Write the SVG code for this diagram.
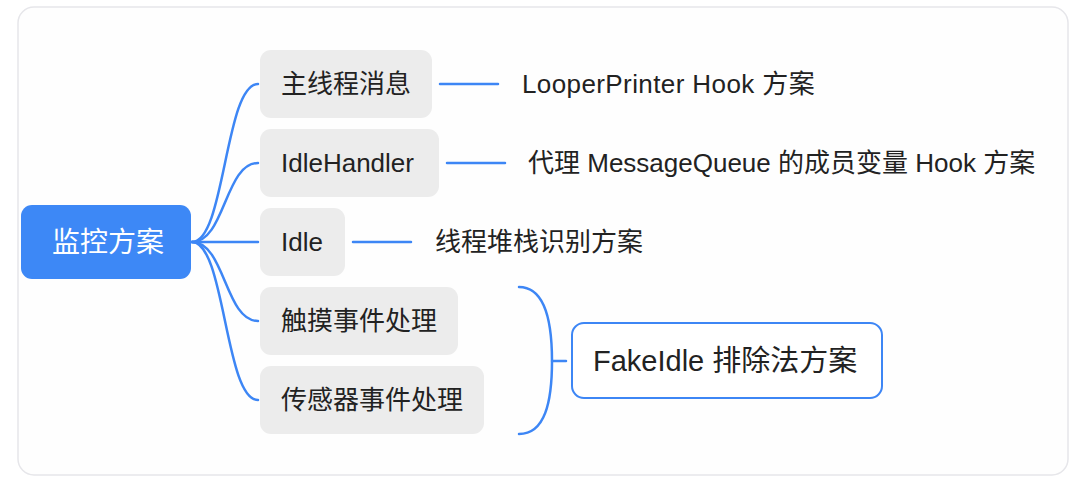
<svg xmlns="http://www.w3.org/2000/svg" width="1080" height="489" viewBox="0 0 1080 489">
<style>
.t{font-family:"Liberation Sans","Noto Sans CJK SC",sans-serif;font-size:26px;fill:#222;dominant-baseline:central}
.n{fill:#ececec}
.c{fill:none;stroke:#3d86f5;stroke-width:2.5;stroke-linecap:round}
</style>
<rect x="0" y="0" width="1080" height="489" fill="#ffffff"/>
<rect x="18" y="7" width="1050" height="468" rx="16" fill="#fefefe" stroke="#e6e6ea" stroke-width="1.5"/>
<g id="connectors">
<path class="c" d="M192,242 C225,242 225,84 258,84"/>
<path class="c" d="M192,242 C225,242 225,163 258,163"/>
<path class="c" d="M192,242 H258"/>
<path class="c" d="M192,242 C225,242 225,321 258,321"/>
<path class="c" d="M192,242 C225,242 225,400 258,400"/>
<path class="c" d="M440,84 H498"/>
<path class="c" d="M447,163 H505"/>
<path class="c" d="M353,242 H411"/>
<path class="c" d="M519,287 C545,287 552,320 552,361 C552,402 545,434 519,434"/>
<path class="c" d="M552,361 H566"/>
</g>
<g id="root">
<rect x="21" y="205" width="170" height="74" rx="11" fill="#3d88f6"/>
<text class="t" x="52" y="242" style="fill:#fff;font-size:28px">监控方案</text>
</g>
<g id="n1">
<rect class="n" x="260" y="50" width="172" height="68" rx="11"/>
<text class="t" x="281" y="84">主线程消息</text>
</g>
<g id="n2">
<rect class="n" x="260" y="129" width="179" height="68" rx="11"/>
<text class="t" x="281" y="163">IdleHandler</text>
</g>
<g id="n3">
<rect class="n" x="260" y="208" width="85" height="68" rx="11"/>
<text class="t" x="281" y="242">Idle</text>
</g>
<g id="n4">
<rect class="n" x="260" y="287" width="198" height="68" rx="11"/>
<text class="t" x="281" y="321">触摸事件处理</text>
</g>
<g id="n5">
<rect class="n" x="260" y="366" width="224" height="68" rx="11"/>
<text class="t" x="281" y="400">传感器事件处理</text>
</g>
<g id="l1"><text class="t" x="522" y="84" style="letter-spacing:0.4px">LooperPrinter Hook 方案</text></g>
<g id="l2"><text class="t" x="528" y="163">代理 MessageQueue 的成员变量 Hook 方案</text></g>
<g id="l3"><text class="t" x="435" y="242">线程堆栈识别方案</text></g>
<g id="fake">
<rect x="572" y="323" width="310" height="75" rx="12" fill="#fff" stroke="#3d86f5" stroke-width="2"/>
<text class="t" x="593" y="361" style="font-size:29px">FakeIdle 排除法方案</text>
</g>
</svg>
